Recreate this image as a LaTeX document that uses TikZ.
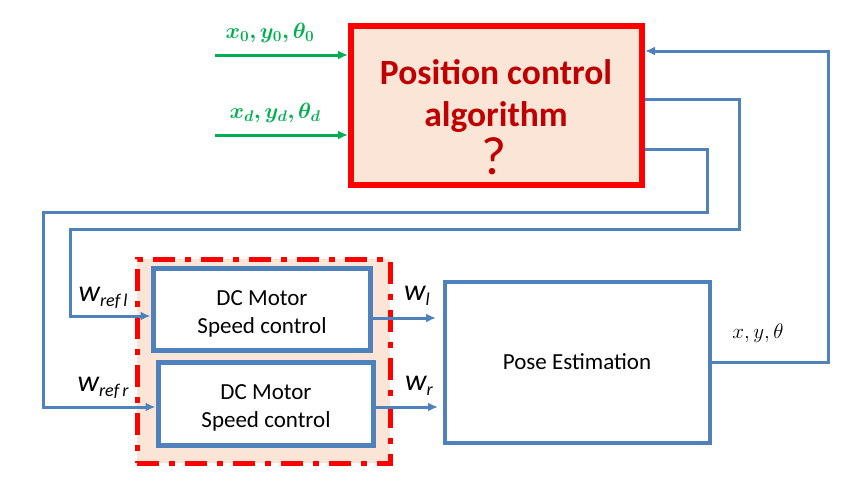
\documentclass[tikz,border=0pt]{standalone}
\usepackage{fix-cm}
\usepackage[no-math]{fontspec}
\setmainfont{Carlito}
\usepackage{bm}
\usetikzlibrary{arrows.meta}
\definecolor{lineblue}{RGB}{79,129,189}
\definecolor{peach}{RGB}{251,229,214}
\definecolor{darkred}{RGB}{192,0,0}
\definecolor{ingreen}{RGB}{0,176,80}
\begin{document}
\begin{tikzpicture}[x=1pt,y=-1pt, >={Latex[length=10pt,width=9pt]},
    block/.style={draw=lineblue, line width=5pt, fill=white},
    blocktext/.style={align=center, font=\fontsize{23}{28}\selectfont},
    wire/.style={draw=lineblue, line width=3pt, ->},
    inwire/.style={draw=ingreen, line width=3pt, ->},
    wlabel/.style={font=\itshape\fontsize{30}{30}\selectfont}]
      \useasboundingbox (0,0) rectangle (846,488);
      \node [draw=red, fill=peach, line width=6pt, minimum width=291pt, minimum height=159pt] (pca) at (496.5,105.5) {};
      \node [text=darkred, align=center, font=\bfseries\fontsize{35.5}{42}\selectfont] (pcatext) at (496,96) {Position control\\algorithm};
      \node [text=darkred, font=\fontsize{54}{54}\selectfont] (qmark) at (494,156) {?};
      \node [draw=red, fill=peach, line width=5pt, dash pattern=on 22pt off 10pt on 6pt off 10pt,
        minimum width=253pt, minimum height=204pt] (grp) at (263.5,361) {};
      \node [block, minimum width=217pt, minimum height=82pt] (dcl) at (261.5,309) {};
      \node [block, minimum width=215pt, minimum height=83pt] (dcr) at (265.5,403.5) {};
      \node [block, line width=4pt, minimum width=265pt, minimum height=161pt] (pose) at (577.5,362.5) {};
      \node [blocktext] (dcltext) at (262,314) {DC Motor\\Speed control};
      \node [blocktext] (dcrtext) at (266,408) {DC Motor\\Speed control};
      \node [blocktext] (posetext) at (577,362) {Pose Estimation};
      \node [text=ingreen, font=\fontsize{22}{24}\selectfont] (in0text) at (270,33) {$\bm{x_0, y_0, \theta_0}$};
      \node [text=ingreen, font=\fontsize{22}{24}\selectfont] (indtext) at (275,113) {$\bm{x_d, y_d, \theta_d}$};
      \node [wlabel] (wrefl) at (103,298) {w\raisebox{-5pt}{\fontsize{18}{18}\selectfont ref\,l}};
      \node [wlabel] (wrefr) at (103,388) {w\raisebox{-5pt}{\fontsize{18}{18}\selectfont ref\,r}};
      \node [wlabel] (wl) at (417,296) {w\raisebox{-5pt}{\fontsize{18}{18}\selectfont l}};
      \node [wlabel] (wr) at (419,386) {w\raisebox{-5pt}{\fontsize{18}{18}\selectfont r}};
      \node [font=\fontsize{21}{24}\selectfont] (xyt) at (758,333) {$x, y, \theta$};
      \coordinate (in0) at (215,55);
      \coordinate (ind) at (215,135);
      \coordinate (fb) at (828,51);
      \coordinate (o1) at (739,99);
      \coordinate (o1b) at (70,229);
      \coordinate (o2) at (707,149);
      \coordinate (o2b) at (43,212);
      \coordinate (wlend) at (436,318);
      \coordinate (wrend) at (438,407);
      \draw [inwire] (in0) -- (pca.west |- in0);
      \draw [inwire] (ind) -- (pca.west |- ind);
      \draw [wire] (pose.east) -| (fb) -- (pca.east |- fb);
      \draw [wire] (pca.east |- o1) -- (o1) |- (o1b) |- ([yshift=-7pt]dcl.west);
      \draw [wire] (pca.east |- o2) -- (o2) |- (o2b) |- ([yshift=-3.5pt]dcr.west);
      \draw [wire] (dcl.east |- wlend) -- (wlend);
      \draw [wire] (dcr.east |- wrend) -- (wrend);
    \end{tikzpicture}
\end{document}
